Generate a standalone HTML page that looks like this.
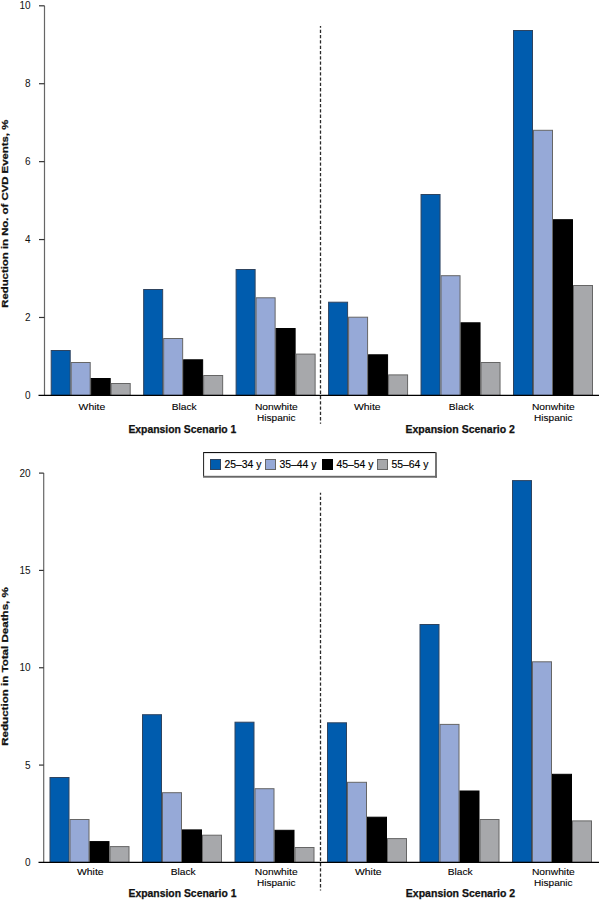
<!DOCTYPE html>
<html><head><meta charset="utf-8"><style>
html,body{margin:0;padding:0;background:#fff;}
svg{display:block;}
text{font-family:"Liberation Sans",sans-serif;fill:#000;}
.tk{font-size:10px;fill:#111;}
.cat{font-size:9.8px;stroke:#000;stroke-width:0.1px;}
.sc{font-size:10.4px;font-weight:bold;fill:#111;stroke:#111;stroke-width:0.25px;}
.yt{font-size:9.3px;font-weight:bold;fill:#111;stroke:#111;stroke-width:0.25px;}
.lg{font-size:10.4px;stroke:#000;stroke-width:0.15px;}
</style></head><body>
<svg width="599" height="900" viewBox="0 0 599 900">
<rect x="51.20" y="350.50" width="19" height="44.90" fill="#005cae" stroke="#2e4460" stroke-width="1"/>
<rect x="71.20" y="362.50" width="19" height="32.90" fill="#96a9d7" stroke="#666" stroke-width="1"/>
<rect x="91.20" y="378.50" width="19" height="16.90" fill="#000" stroke="#000" stroke-width="1"/>
<rect x="111.20" y="383.50" width="19" height="11.90" fill="#a7a8ab" stroke="#666" stroke-width="1"/>
<rect x="143.66" y="289.50" width="19" height="105.90" fill="#005cae" stroke="#2e4460" stroke-width="1"/>
<rect x="163.66" y="338.50" width="19" height="56.90" fill="#96a9d7" stroke="#666" stroke-width="1"/>
<rect x="183.66" y="359.80" width="19" height="35.60" fill="#000" stroke="#000" stroke-width="1"/>
<rect x="203.66" y="375.50" width="19" height="19.90" fill="#a7a8ab" stroke="#666" stroke-width="1"/>
<rect x="236.12" y="269.50" width="19" height="125.90" fill="#005cae" stroke="#2e4460" stroke-width="1"/>
<rect x="256.12" y="297.80" width="19" height="97.60" fill="#96a9d7" stroke="#666" stroke-width="1"/>
<rect x="276.12" y="328.50" width="19" height="66.90" fill="#000" stroke="#000" stroke-width="1"/>
<rect x="296.12" y="354.10" width="19" height="41.30" fill="#a7a8ab" stroke="#666" stroke-width="1"/>
<rect x="328.58" y="302.20" width="19" height="93.20" fill="#005cae" stroke="#2e4460" stroke-width="1"/>
<rect x="348.58" y="317.20" width="19" height="78.20" fill="#96a9d7" stroke="#666" stroke-width="1"/>
<rect x="368.58" y="354.80" width="19" height="40.60" fill="#000" stroke="#000" stroke-width="1"/>
<rect x="388.58" y="374.90" width="19" height="20.50" fill="#a7a8ab" stroke="#666" stroke-width="1"/>
<rect x="421.04" y="194.50" width="19" height="200.90" fill="#005cae" stroke="#2e4460" stroke-width="1"/>
<rect x="441.04" y="275.70" width="19" height="119.70" fill="#96a9d7" stroke="#666" stroke-width="1"/>
<rect x="461.04" y="322.80" width="19" height="72.60" fill="#000" stroke="#000" stroke-width="1"/>
<rect x="481.04" y="362.50" width="19" height="32.90" fill="#a7a8ab" stroke="#666" stroke-width="1"/>
<rect x="513.50" y="30.50" width="19" height="364.90" fill="#005cae" stroke="#2e4460" stroke-width="1"/>
<rect x="533.50" y="130.30" width="19" height="265.10" fill="#96a9d7" stroke="#666" stroke-width="1"/>
<rect x="553.50" y="219.70" width="19" height="175.70" fill="#000" stroke="#000" stroke-width="1"/>
<rect x="573.50" y="285.50" width="19" height="109.90" fill="#a7a8ab" stroke="#666" stroke-width="1"/>
<line x1="44.50" y1="5.8" x2="44.50" y2="395.4" stroke="#666" stroke-width="1.2"/>
<line x1="38.5" y1="395.40" x2="599" y2="395.40" stroke="#000" stroke-width="1.1"/>
<text x="30.5" y="399.00" text-anchor="end" class="tk">0</text>
<line x1="39" y1="317.48" x2="44.50" y2="317.48" stroke="#333" stroke-width="1.2"/>
<text x="30.5" y="321.08" text-anchor="end" class="tk">2</text>
<line x1="39" y1="239.56" x2="44.50" y2="239.56" stroke="#333" stroke-width="1.2"/>
<text x="30.5" y="243.16" text-anchor="end" class="tk">4</text>
<line x1="39" y1="161.64" x2="44.50" y2="161.64" stroke="#333" stroke-width="1.2"/>
<text x="30.5" y="165.24" text-anchor="end" class="tk">6</text>
<line x1="39" y1="83.72" x2="44.50" y2="83.72" stroke="#333" stroke-width="1.2"/>
<text x="30.5" y="87.32" text-anchor="end" class="tk">8</text>
<line x1="39" y1="5.80" x2="44.50" y2="5.80" stroke="#333" stroke-width="1.2"/>
<text x="30.5" y="9.40" text-anchor="end" class="tk">10</text>
<line x1="320.5" y1="26" x2="320.5" y2="423.7" stroke="#2a2a2a" stroke-width="1.3" stroke-dasharray="3.3 2.007" stroke-dashoffset="1.6"/>
<text x="78.60" y="409.70" textLength="26.60" lengthAdjust="spacingAndGlyphs" class="cat">White</text>
<text x="171.70" y="409.70" textLength="25.00" lengthAdjust="spacingAndGlyphs" class="cat">Black</text>
<text x="254.90" y="409.70" textLength="42.80" lengthAdjust="spacingAndGlyphs" class="cat">Nonwhite</text>
<text x="257.05" y="421.45" textLength="38.50" lengthAdjust="spacingAndGlyphs" class="cat">Hispanic</text>
<text x="354.00" y="409.70" textLength="26.60" lengthAdjust="spacingAndGlyphs" class="cat">White</text>
<text x="448.80" y="409.70" textLength="25.00" lengthAdjust="spacingAndGlyphs" class="cat">Black</text>
<text x="531.90" y="409.70" textLength="42.80" lengthAdjust="spacingAndGlyphs" class="cat">Nonwhite</text>
<text x="534.05" y="421.45" textLength="38.50" lengthAdjust="spacingAndGlyphs" class="cat">Hispanic</text>
<text x="128.40" y="433.40" textLength="108" lengthAdjust="spacingAndGlyphs" class="sc">Expansion Scenario 1</text>
<text x="405.50" y="433.40" textLength="109.4" lengthAdjust="spacingAndGlyphs" class="sc">Expansion Scenario 2</text>
<text x="0" y="0" transform="translate(8.3 307.80) rotate(-90)" textLength="188.10" lengthAdjust="spacingAndGlyphs" class="yt">Reduction in No. of CVD Events, %</text>
<rect x="50.00" y="777.50" width="19" height="84.90" fill="#005cae" stroke="#2e4460" stroke-width="1"/>
<rect x="70.00" y="819.50" width="19" height="42.90" fill="#96a9d7" stroke="#666" stroke-width="1"/>
<rect x="90.00" y="841.60" width="19" height="20.80" fill="#000" stroke="#000" stroke-width="1"/>
<rect x="110.00" y="846.60" width="19" height="15.80" fill="#a7a8ab" stroke="#666" stroke-width="1"/>
<rect x="142.50" y="714.70" width="19" height="147.70" fill="#005cae" stroke="#2e4460" stroke-width="1"/>
<rect x="162.50" y="792.70" width="19" height="69.70" fill="#96a9d7" stroke="#666" stroke-width="1"/>
<rect x="182.50" y="829.90" width="19" height="32.50" fill="#000" stroke="#000" stroke-width="1"/>
<rect x="202.50" y="835.20" width="19" height="27.20" fill="#a7a8ab" stroke="#666" stroke-width="1"/>
<rect x="235.00" y="722.20" width="19" height="140.20" fill="#005cae" stroke="#2e4460" stroke-width="1"/>
<rect x="255.00" y="788.70" width="19" height="73.70" fill="#96a9d7" stroke="#666" stroke-width="1"/>
<rect x="275.00" y="830.30" width="19" height="32.10" fill="#000" stroke="#000" stroke-width="1"/>
<rect x="295.00" y="847.50" width="19" height="14.90" fill="#a7a8ab" stroke="#666" stroke-width="1"/>
<rect x="327.50" y="722.80" width="19" height="139.60" fill="#005cae" stroke="#2e4460" stroke-width="1"/>
<rect x="347.50" y="782.30" width="19" height="80.10" fill="#96a9d7" stroke="#666" stroke-width="1"/>
<rect x="367.50" y="817.20" width="19" height="45.20" fill="#000" stroke="#000" stroke-width="1"/>
<rect x="387.50" y="838.60" width="19" height="23.80" fill="#a7a8ab" stroke="#666" stroke-width="1"/>
<rect x="420.00" y="624.50" width="19" height="237.90" fill="#005cae" stroke="#2e4460" stroke-width="1"/>
<rect x="440.00" y="724.40" width="19" height="138.00" fill="#96a9d7" stroke="#666" stroke-width="1"/>
<rect x="460.00" y="791.00" width="19" height="71.40" fill="#000" stroke="#000" stroke-width="1"/>
<rect x="480.00" y="819.50" width="19" height="42.90" fill="#a7a8ab" stroke="#666" stroke-width="1"/>
<rect x="512.50" y="480.60" width="19" height="381.80" fill="#005cae" stroke="#2e4460" stroke-width="1"/>
<rect x="532.50" y="661.80" width="19" height="200.60" fill="#96a9d7" stroke="#666" stroke-width="1"/>
<rect x="552.50" y="774.30" width="19" height="88.10" fill="#000" stroke="#000" stroke-width="1"/>
<rect x="572.50" y="820.90" width="19" height="41.50" fill="#a7a8ab" stroke="#666" stroke-width="1"/>
<line x1="43.70" y1="473.1" x2="43.70" y2="862.4" stroke="#666" stroke-width="1.2"/>
<line x1="38.5" y1="862.40" x2="599" y2="862.40" stroke="#000" stroke-width="1.1"/>
<text x="30.5" y="866.00" text-anchor="end" class="tk">0</text>
<line x1="39" y1="765.08" x2="43.70" y2="765.08" stroke="#333" stroke-width="1.2"/>
<text x="30.5" y="768.68" text-anchor="end" class="tk">5</text>
<line x1="39" y1="667.75" x2="43.70" y2="667.75" stroke="#333" stroke-width="1.2"/>
<text x="30.5" y="671.35" text-anchor="end" class="tk">10</text>
<line x1="39" y1="570.42" x2="43.70" y2="570.42" stroke="#333" stroke-width="1.2"/>
<text x="30.5" y="574.02" text-anchor="end" class="tk">15</text>
<line x1="39" y1="473.10" x2="43.70" y2="473.10" stroke="#333" stroke-width="1.2"/>
<text x="30.5" y="476.70" text-anchor="end" class="tk">20</text>
<line x1="320.5" y1="492.7" x2="320.5" y2="890.4" stroke="#2a2a2a" stroke-width="1.3" stroke-dasharray="3.3 2.007" stroke-dashoffset="1.3"/>
<text x="77.00" y="874.70" textLength="26.60" lengthAdjust="spacingAndGlyphs" class="cat">White</text>
<text x="170.70" y="874.70" textLength="25.00" lengthAdjust="spacingAndGlyphs" class="cat">Black</text>
<text x="254.85" y="874.70" textLength="42.80" lengthAdjust="spacingAndGlyphs" class="cat">Nonwhite</text>
<text x="257.00" y="886.45" textLength="38.50" lengthAdjust="spacingAndGlyphs" class="cat">Hispanic</text>
<text x="355.00" y="874.70" textLength="26.60" lengthAdjust="spacingAndGlyphs" class="cat">White</text>
<text x="447.70" y="874.70" textLength="25.00" lengthAdjust="spacingAndGlyphs" class="cat">Black</text>
<text x="531.90" y="874.70" textLength="42.80" lengthAdjust="spacingAndGlyphs" class="cat">Nonwhite</text>
<text x="534.05" y="886.45" textLength="38.50" lengthAdjust="spacingAndGlyphs" class="cat">Hispanic</text>
<text x="128.50" y="896.80" textLength="108" lengthAdjust="spacingAndGlyphs" class="sc">Expansion Scenario 1</text>
<text x="405.80" y="896.80" textLength="109.4" lengthAdjust="spacingAndGlyphs" class="sc">Expansion Scenario 2</text>
<text x="0" y="0" transform="translate(8.3 745.80) rotate(-90)" textLength="158.60" lengthAdjust="spacingAndGlyphs" class="yt">Reduction in Total Deaths, %</text>
<rect x="203" y="452" width="234" height="25.7" fill="#fff"/>
<rect x="203" y="452" width="233" height="1.1" fill="#111"/>
<rect x="203" y="452" width="1.1" height="25" fill="#333"/>
<rect x="435.1" y="452.3" width="1.8" height="25.4" fill="#676767"/>
<rect x="203" y="475.8" width="233.9" height="1.9" fill="#676767"/>
<rect x="210.5" y="459.5" width="10" height="10" fill="#005cae" stroke="#2e4460" stroke-width="1"/>
<text x="224.5" y="467.8" class="lg">25–34 y</text>
<rect x="265.5" y="459.5" width="10" height="10" fill="#96a9d7" stroke="#666" stroke-width="1"/>
<text x="279.5" y="467.8" class="lg">35–44 y</text>
<rect x="322.5" y="459.5" width="10" height="10" fill="#000" stroke="#000" stroke-width="1"/>
<text x="336.5" y="467.8" class="lg">45–54 y</text>
<rect x="377.5" y="459.5" width="10" height="10" fill="#a7a8ab" stroke="#666" stroke-width="1"/>
<text x="391.5" y="467.8" class="lg">55–64 y</text>
</svg>
</body></html>
